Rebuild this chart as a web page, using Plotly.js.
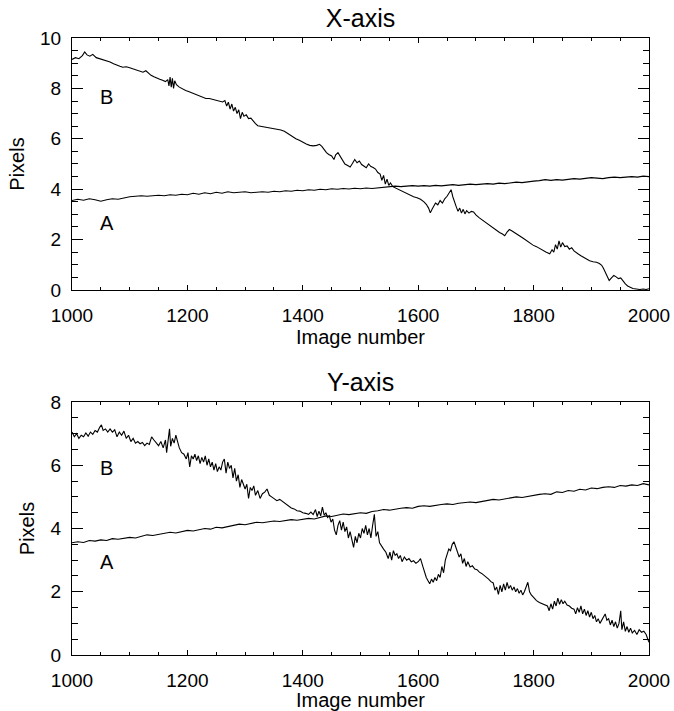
<!DOCTYPE html>
<html>
<head>
<meta charset="utf-8">
<script src="https://cdn.plot.ly/plotly-3.0.1.min.js"></script>
<style>html,body{margin:0;padding:0;background:#fff;}#chart{width:674px;height:711px;}</style>
</head>
<body>
<div id="chart"></div>
<script>
// ---- X-axis panel, series B ----
const xAxisB_img = [1000,1006,1012,1018,1022,1026,1031,1036,1042,1048,1054,1060,1066,1072,1077,1083,1088,1094,1100,1106,1111,1117,1123,1128,1132,1137,1142,1147,1152,1157,1162,1166,1168,1170,1172,1174,1176,1178,1181,1186,1192,1197,1202,1208,1214,1220,1226,1232,1238,1244,1250,1256,1261,1265,1268,1271,1274,1277,1280,1283,1286,1289,1292,1295,1298,1302,1306,1310,1314,1318,1322,1327,1333,1339,1345,1350,1356,1362,1368,1373,1378,1383,1388,1394,1400,1406,1412,1418,1424,1429,1433,1437,1441,1445,1450,1454,1457,1461,1465,1469,1473,1477,1482,1486,1490,1494,1498,1502,1506,1510,1514,1518,1522,1526,1530,1534,1537,1540,1543,1546,1549,1552,1556,1562,1568,1574,1580,1586,1592,1598,1604,1610,1614,1618,1621,1624,1627,1630,1634,1638,1642,1646,1650,1654,1657,1660,1663,1666,1669,1672,1675,1678,1681,1684,1688,1692,1696,1700,1706,1712,1718,1724,1729,1735,1741,1746,1750,1754,1758,1762,1766,1770,1776,1782,1788,1793,1799,1805,1810,1816,1822,1828,1832,1835,1838,1841,1844,1847,1850,1854,1858,1862,1866,1870,1874,1878,1882,1886,1891,1897,1903,1909,1914,1918,1921,1924,1927,1931,1935,1939,1943,1947,1951,1955,1959,1963,1967,1972,1978,1984,1990,1995,2000];
const xAxisB_pix = [9.15,9.22,9.18,9.30,9.45,9.33,9.28,9.35,9.22,9.18,9.12,9.08,9.05,8.98,8.92,8.88,8.84,8.86,8.82,8.78,8.72,8.68,8.64,8.70,8.62,8.52,8.46,8.40,8.36,8.32,8.27,8.35,8.10,8.45,8.05,8.40,8.00,8.30,8.15,8.05,7.96,7.92,7.88,7.82,7.78,7.70,7.66,7.60,7.60,7.56,7.52,7.50,7.46,7.52,7.30,7.45,7.18,7.38,7.10,7.25,7.00,7.15,6.80,7.05,6.90,6.95,6.80,6.82,6.70,6.60,6.52,6.50,6.46,6.44,6.42,6.40,6.38,6.35,6.30,6.22,6.15,6.06,6.00,5.94,5.86,5.79,5.74,5.72,5.74,5.78,5.70,5.55,5.45,5.38,5.32,5.18,5.36,5.45,5.30,5.12,5.00,4.95,4.88,5.02,5.18,5.05,5.12,4.98,4.92,4.85,5.00,4.90,4.86,4.80,4.66,4.60,4.35,4.55,4.20,4.40,4.15,4.25,4.10,4.03,3.96,3.90,3.82,3.76,3.70,3.66,3.60,3.50,3.40,3.25,3.06,3.20,3.32,3.45,3.38,3.55,3.45,3.62,3.72,3.85,3.98,3.70,3.45,3.30,3.12,3.25,3.05,3.20,3.02,3.15,3.05,3.12,3.10,2.98,2.86,2.76,2.66,2.56,2.46,2.38,2.28,2.22,2.15,2.30,2.40,2.35,2.28,2.22,2.14,2.05,1.95,1.86,1.78,1.72,1.65,1.58,1.50,1.44,1.60,1.50,1.80,1.62,1.95,1.70,1.88,1.72,1.75,1.62,1.68,1.55,1.50,1.42,1.36,1.30,1.24,1.16,1.12,1.10,1.05,0.98,0.86,0.70,0.52,0.38,0.48,0.58,0.52,0.45,0.48,0.35,0.24,0.16,0.12,0.06,0.04,0.02,0.04,0.02,0.05];

// ---- X-axis panel, series A ----
const xAxisA_img = [1000,1010,1020,1030,1040,1050,1060,1070,1080,1090,1100,1110,1120,1130,1140,1150,1160,1170,1180,1190,1200,1210,1220,1230,1240,1250,1260,1270,1280,1290,1300,1310,1320,1330,1340,1350,1360,1370,1380,1390,1400,1410,1420,1430,1440,1450,1460,1470,1480,1490,1500,1510,1520,1530,1540,1550,1560,1570,1580,1590,1600,1610,1620,1630,1640,1650,1660,1670,1680,1690,1700,1710,1720,1730,1740,1750,1760,1770,1780,1790,1800,1810,1820,1830,1840,1850,1860,1870,1880,1890,1900,1910,1920,1930,1940,1950,1960,1970,1980,1990,2000];
const xAxisA_pix = [3.55,3.60,3.56,3.62,3.58,3.52,3.58,3.62,3.60,3.66,3.70,3.72,3.74,3.72,3.74,3.76,3.74,3.78,3.76,3.80,3.78,3.84,3.80,3.86,3.82,3.88,3.84,3.90,3.86,3.88,3.90,3.86,3.88,3.90,3.88,3.92,3.90,3.94,3.92,3.96,3.94,3.98,3.96,4.00,3.98,4.02,4.00,4.03,4.01,4.04,4.02,4.05,4.03,4.06,4.08,4.10,4.12,4.10,4.12,4.14,4.12,4.14,4.12,4.15,4.13,4.16,4.18,4.15,4.17,4.20,4.18,4.20,4.22,4.20,4.24,4.22,4.26,4.28,4.26,4.30,4.32,4.34,4.38,4.35,4.38,4.36,4.40,4.42,4.40,4.44,4.46,4.44,4.42,4.46,4.48,4.46,4.48,4.50,4.48,4.52,4.50];

// ---- Y-axis panel, series B ----
const yAxisB_img = [1000,1004,1008,1012,1016,1020,1024,1028,1032,1036,1040,1044,1048,1051,1054,1058,1062,1066,1070,1074,1078,1082,1086,1090,1094,1098,1102,1106,1110,1114,1118,1122,1126,1130,1134,1138,1142,1146,1150,1154,1158,1162,1164,1167,1169,1171,1174,1177,1180,1183,1186,1190,1194,1198,1201,1204,1207,1210,1213,1216,1219,1222,1225,1228,1231,1234,1237,1240,1243,1246,1249,1252,1255,1258,1261,1264,1267,1270,1273,1276,1279,1282,1285,1288,1291,1294,1297,1300,1303,1306,1309,1312,1315,1318,1322,1326,1330,1334,1338,1342,1346,1350,1355,1360,1365,1370,1375,1380,1385,1390,1395,1400,1405,1410,1414,1418,1422,1425,1428,1431,1434,1437,1440,1443,1446,1449,1452,1455,1458,1461,1464,1467,1470,1473,1476,1479,1482,1485,1488,1491,1494,1497,1500,1503,1506,1509,1512,1515,1518,1521,1524,1527,1530,1533,1536,1540,1544,1548,1551,1554,1557,1560,1563,1566,1569,1572,1576,1580,1584,1588,1592,1596,1600,1604,1608,1611,1614,1617,1620,1623,1626,1629,1632,1635,1638,1641,1644,1647,1650,1653,1656,1659,1662,1665,1668,1671,1674,1677,1680,1683,1686,1690,1694,1698,1702,1706,1710,1714,1718,1722,1726,1730,1733,1736,1739,1742,1745,1748,1751,1754,1757,1760,1763,1766,1769,1772,1775,1778,1781,1784,1787,1790,1793,1796,1800,1805,1810,1815,1820,1824,1827,1830,1833,1836,1839,1842,1845,1848,1851,1854,1858,1862,1866,1870,1873,1876,1879,1882,1885,1888,1891,1894,1897,1900,1903,1906,1909,1912,1915,1918,1921,1924,1927,1930,1933,1936,1939,1942,1945,1948,1951,1953,1956,1959,1962,1965,1968,1971,1975,1979,1983,1987,1991,1995,1998,2000];
const yAxisB_pix = [7.05,6.90,7.00,6.85,6.95,6.90,7.02,6.92,7.05,6.98,7.10,7.05,7.20,7.28,7.10,7.15,7.05,7.15,7.05,7.12,6.90,7.05,6.95,7.08,6.85,6.95,6.75,6.85,6.70,6.75,6.68,6.72,6.62,6.70,6.66,6.90,6.80,6.72,6.62,6.75,6.55,6.80,6.40,6.85,7.15,6.60,6.85,6.70,6.95,6.75,6.55,6.40,6.35,6.20,6.40,5.95,6.30,6.20,6.35,6.15,6.30,6.05,6.25,6.10,6.30,6.00,6.20,5.95,6.10,5.85,6.05,5.80,5.95,5.85,6.10,6.20,5.75,6.10,5.90,6.00,5.60,5.90,5.50,5.70,5.30,5.55,5.40,5.25,5.40,4.95,5.30,5.20,5.35,5.05,5.20,4.95,5.10,5.15,5.25,5.05,5.00,4.95,4.88,4.92,4.85,4.78,4.72,4.65,4.62,4.56,4.55,4.50,4.48,4.45,4.52,4.44,4.60,4.38,4.55,4.40,4.68,4.42,4.50,4.35,4.40,4.20,4.30,3.95,3.80,4.10,4.25,3.95,4.20,3.90,4.05,3.70,3.90,3.60,3.40,3.75,3.55,3.85,3.70,4.00,3.85,4.10,3.80,4.00,3.70,4.10,4.45,3.75,3.90,3.55,3.45,3.35,3.25,3.05,3.25,3.00,3.30,3.15,3.20,3.05,3.15,2.95,3.10,3.00,3.05,2.95,2.98,2.90,2.95,3.05,2.80,2.60,2.45,2.35,2.25,2.40,2.30,2.45,2.35,2.55,2.45,2.80,2.60,3.00,3.20,3.35,3.30,3.50,3.58,3.40,3.30,3.10,3.20,2.90,3.05,2.80,2.95,2.78,2.82,2.72,2.70,2.62,2.58,2.52,2.48,2.40,2.32,2.28,2.05,2.15,1.92,2.20,2.00,2.25,2.05,2.30,2.10,2.20,2.05,2.15,2.00,2.10,1.95,2.05,1.90,2.00,2.15,2.30,2.00,1.90,1.82,1.72,1.66,1.62,1.58,1.55,1.40,1.62,1.45,1.70,1.55,1.80,1.60,1.75,1.62,1.70,1.58,1.55,1.48,1.45,1.30,1.50,1.35,1.55,1.30,1.45,1.25,1.40,1.20,1.35,1.15,1.25,1.05,1.15,1.00,1.10,1.18,1.30,1.10,1.15,0.95,1.10,0.90,1.05,0.85,1.00,1.40,0.80,1.05,0.75,0.90,0.72,0.85,0.70,0.78,0.65,0.80,0.72,0.75,0.65,0.50,0.40];

// ---- Y-axis panel, series A ----
const yAxisA_img = [1000,1010,1020,1030,1040,1050,1060,1070,1080,1090,1100,1110,1120,1130,1140,1150,1160,1170,1180,1190,1200,1210,1220,1230,1240,1250,1260,1270,1280,1290,1300,1310,1320,1330,1340,1350,1360,1370,1380,1390,1400,1410,1420,1430,1440,1450,1460,1470,1480,1490,1500,1510,1520,1530,1540,1550,1560,1570,1580,1590,1600,1610,1620,1630,1640,1650,1660,1670,1680,1690,1700,1710,1720,1730,1740,1750,1760,1770,1780,1790,1800,1810,1820,1830,1840,1850,1860,1870,1880,1890,1900,1910,1920,1930,1940,1950,1960,1970,1980,1990,2000];
const yAxisA_pix = [3.55,3.58,3.56,3.62,3.60,3.64,3.62,3.68,3.66,3.70,3.72,3.70,3.76,3.80,3.78,3.82,3.84,3.88,3.86,3.90,3.94,3.92,3.96,4.00,3.98,4.04,4.02,4.06,4.10,4.14,4.12,4.16,4.20,4.18,4.22,4.24,4.22,4.26,4.28,4.26,4.30,4.32,4.30,4.36,4.40,4.38,4.42,4.46,4.44,4.48,4.50,4.48,4.54,4.56,4.60,4.58,4.62,4.64,4.66,4.64,4.70,4.72,4.70,4.74,4.76,4.78,4.76,4.80,4.82,4.84,4.82,4.86,4.88,4.92,4.90,4.94,4.98,5.00,4.98,5.02,5.04,5.08,5.10,5.08,5.16,5.14,5.20,5.18,5.24,5.22,5.28,5.26,5.30,5.32,5.30,5.36,5.34,5.38,5.36,5.42,5.38];

// ---- text ----
const panelTitles = ["X-axis", "Y-axis"];
const xTitle = "Image number";
const yTitle = "Pixels";
const seriesLabels = ["B", "A"];
const labelPosTop = [[1060, 7.67], [1060, 2.66]];
const labelPosBottom = [[1060, 5.92], [1060, 2.95]];

const FONT = "Liberation Sans, Arial, sans-serif";
const lineStyle = {color: "#000", width: 1.1};

const traces = [
  {x: xAxisB_img, y: xAxisB_pix, xaxis: "x", yaxis: "y", mode: "lines", line: lineStyle, name: "B"},
  {x: xAxisA_img, y: xAxisA_pix, xaxis: "x", yaxis: "y", mode: "lines", line: lineStyle, name: "A"},
  {x: yAxisB_img, y: yAxisB_pix, xaxis: "x2", yaxis: "y2", mode: "lines", line: lineStyle, name: "B"},
  {x: yAxisA_img, y: yAxisA_pix, xaxis: "x2", yaxis: "y2", mode: "lines", line: lineStyle, name: "A"}
];

function xax(anchor, domain) {
  return {
    anchor: anchor, domain: [0, 1], range: [1000, 2000], dtick: 200, tick0: 1000,
    ticks: "inside", ticklen: 5, tickwidth: 1, tickcolor: "#000",
    minor: {dtick: 50, ticks: "inside", ticklen: 3, tickwidth: 1, tickcolor: "#000", showgrid: false},
    mirror: "allticks", showline: true, linecolor: "#000", linewidth: 1,
    showgrid: false, zeroline: false,
    tickfont: {family: FONT, size: 19, color: "#000"},
    ticklabelstandoff: 8,
    title: {text: xTitle, font: {family: FONT, size: 20, color: "#000"}, standoff: 4}
  };
}
function yax(anchor, domain, maxv) {
  return {
    anchor: anchor, domain: domain, range: [0, maxv], dtick: 2, tick0: 0,
    ticks: "inside", ticklen: 11, tickwidth: 1, tickcolor: "#000",
    minor: {dtick: 0.5, ticks: "inside", ticklen: 6, tickwidth: 1, tickcolor: "#000", showgrid: false},
    mirror: "allticks", showline: true, linecolor: "#000", linewidth: 1,
    showgrid: false, zeroline: false,
    tickfont: {family: FONT, size: 19, color: "#000"},
    ticklabelstandoff: 6,
    title: {text: yTitle, font: {family: FONT, size: 20, color: "#000"}, standoff: 10}
  };
}

const annotations = [];
[[labelPosTop, "x", "y"], [labelPosBottom, "x2", "y2"]].forEach(([pos, xr, yr]) => {
  pos.forEach((p, i) => annotations.push({
    x: p[0], y: p[1], xref: xr, yref: yr, text: seriesLabels[i], showarrow: false,
    font: {family: FONT, size: 20, color: "#000"}
  }));
});
annotations.push({
  text: panelTitles[1], xref: "paper", yref: "paper", x: 0.5, y: 0.4425, yanchor: "middle",
  showarrow: false, font: {family: FONT, size: 25, color: "#000"}
});

const layout = {
  width: 674, height: 711,
  margin: {l: 72, r: 25, t: 38, b: 56},
  paper_bgcolor: "#fff", plot_bgcolor: "#fff",
  showlegend: false,
  title: {text: panelTitles[0], x: 0.5, xref: "paper", y: 0.975, yanchor: "middle", font: {family: FONT, size: 25, color: "#000"}},
  xaxis: xax("y"),
  yaxis: yax("x", [0.5916, 1], 10),
  xaxis2: xax("y2"),
  yaxis2: yax("x2", [0, 0.41], 8),
  annotations: annotations
};

Plotly.newPlot("chart", traces, layout, {staticPlot: true, displayModeBar: false});
</script>
</body>
</html>
